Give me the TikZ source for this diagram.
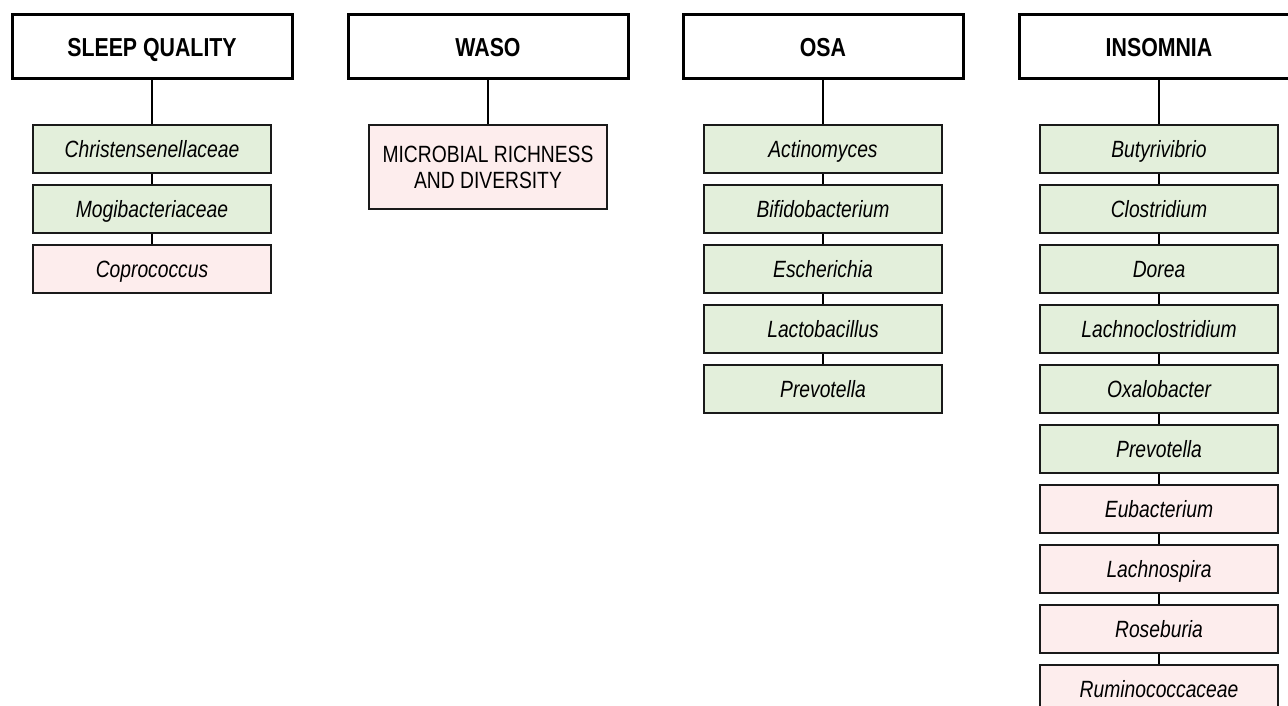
\documentclass[tikz,border=0pt]{standalone}
\usepackage{fontspec}
\setmainfont{Liberation Sans}[FakeStretch=0.82]
\definecolor{gfill}{HTML}{E3EFDB}
\definecolor{pfill}{HTML}{FDEDED}
\definecolor{bord}{HTML}{1A1A1A}
\tikzset{
  hdr/.style={draw=black, line width=3pt, fill=white, minimum width=280pt, minimum height=64pt, inner sep=0pt, text height=22pt, text depth=3pt, font=\fontsize{26}{30}\selectfont\bfseries},
  gbox/.style={draw=bord, line width=2.4pt, fill=gfill, minimum width=238pt, minimum height=48pt, inner sep=0pt, text height=20pt, text depth=3pt, font=\fontsize{23.5}{26}\selectfont\itshape},
  pbox/.style={gbox, fill=pfill},
  conn/.style={line width=2pt, draw=black}
}
\begin{document}
\begin{tikzpicture}[x=1pt,y=-1pt]
\useasboundingbox (0,0) rectangle (1288,706);
\clip (0,0) rectangle (1288,706);
% headers
\node[hdr] (h1) at (152,47) {SLEEP QUALITY};
\node[hdr] (h2) at (488,47) {WASO};
\node[hdr] (h3) at (823,47) {OSA};
\node[hdr] (h4) at (1159,47) {INSOMNIA};
% sleep quality
\node[gbox] (a1) at (152,149) {Christensenellaceae};
\node[gbox] (a2) at (152,209) {Mogibacteriaceae};
\node[pbox] (a3) at (152,269) {Coprococcus};
\draw[conn] (h1.south) -- (a1.north);
\draw[conn] (a1.south) -- (a2.north);
\draw[conn] (a2.south) -- (a3.north);
% waso
\node[pbox, minimum height=84pt, text height=, text depth=, font=\fontsize{23.5}{26}\selectfont, align=center] (b1) at (488,167) {MICROBIAL RICHNESS\\AND DIVERSITY};
\draw[conn] (h2.south) -- (b1.north);
% osa
\node[gbox] (c1) at (823,149) {Actinomyces};
\node[gbox] (c2) at (823,209) {Bifidobacterium};
\node[gbox] (c3) at (823,269) {Escherichia};
\node[gbox] (c4) at (823,329) {Lactobacillus};
\node[gbox] (c5) at (823,389) {Prevotella};
\draw[conn] (h3.south) -- (c1.north);
\draw[conn] (c1.south) -- (c2.north);
\draw[conn] (c2.south) -- (c3.north);
\draw[conn] (c3.south) -- (c4.north);
\draw[conn] (c4.south) -- (c5.north);
% insomnia
\node[gbox] (d1) at (1159,149) {Butyrivibrio};
\node[gbox] (d2) at (1159,209) {Clostridium};
\node[gbox] (d3) at (1159,269) {Dorea};
\node[gbox] (d4) at (1159,329) {Lachnoclostridium};
\node[gbox] (d5) at (1159,389) {Oxalobacter};
\node[gbox] (d6) at (1159,449) {Prevotella};
\node[pbox] (d7) at (1159,509) {Eubacterium};
\node[pbox] (d8) at (1159,569) {Lachnospira};
\node[pbox] (d9) at (1159,629) {Roseburia};
\node[pbox] (d10) at (1159,689) {Ruminococcaceae};
\draw[conn] (h4.south) -- (d1.north);
\foreach \i/\j in {1/2,2/3,3/4,4/5,5/6,6/7,7/8,8/9,9/10}
  \draw[conn] (d\i.south) -- (d\j.north);
\end{tikzpicture}
\end{document}
